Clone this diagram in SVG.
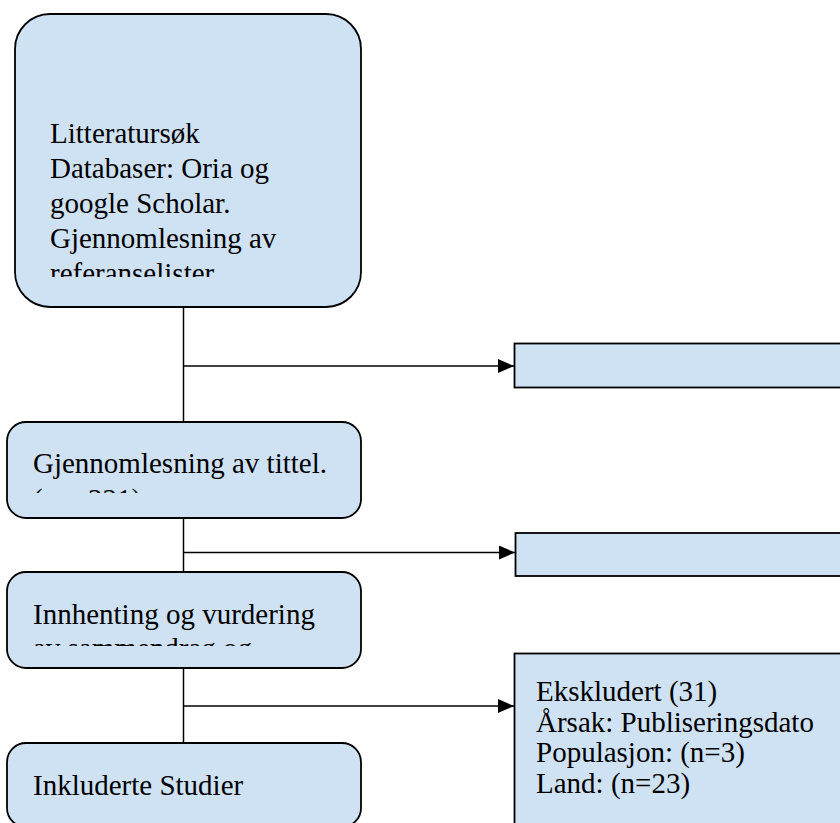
<svg xmlns="http://www.w3.org/2000/svg" width="840" height="823" viewBox="0 0 840 823">
<style>
.box{fill:#cfe2f3;stroke:#000;stroke-width:1.8}
.t{font-family:"Liberation Serif","Times New Roman",serif;font-size:29px;fill:#000}
.c{fill:none;stroke:#000;stroke-width:1.5}
</style>
<defs>
<marker id="ah" markerWidth="16" markerHeight="14" refX="16" refY="7" orient="auto" markerUnits="userSpaceOnUse">
<path d="M0,0 L16,7 L0,14 Z" fill="#000"/>
</marker>
<clipPath id="c1"><rect x="15" y="14" width="346" height="263"/></clipPath>
<clipPath id="c2"><rect x="7" y="422" width="354" height="71"/></clipPath>
<clipPath id="c3"><rect x="7" y="572" width="354" height="74"/></clipPath>
</defs>
<rect width="840" height="823" fill="#fff"/>
<g id="connectors">
<line class="c" x1="183.5" y1="307" x2="183.5" y2="422"/>
<line class="c" x1="183.5" y1="366" x2="514" y2="366" marker-end="url(#ah)"/>
<line class="c" x1="183.5" y1="518" x2="183.5" y2="572"/>
<line class="c" x1="183.5" y1="552.5" x2="515" y2="552.5" marker-end="url(#ah)"/>
<line class="c" x1="183.5" y1="668" x2="183.5" y2="743"/>
<line class="c" x1="183.5" y1="706" x2="514" y2="706" marker-end="url(#ah)"/>
</g>
<g id="litteratursok">
<rect class="box" x="15" y="14" width="346" height="293" rx="35" ry="35"/>
<text class="t" clip-path="url(#c1)"><tspan x="50" y="142.5">Litteratursøk</tspan><tspan x="50" y="177.7">Databaser: Oria og</tspan><tspan x="50" y="212.9">google Scholar.</tspan><tspan x="50" y="248.1">Gjennomlesning av</tspan><tspan x="50" y="283.3">referanselister</tspan></text>
</g>
<g id="tittel">
<rect class="box" x="7" y="422" width="354" height="96" rx="19" ry="19"/>
<text class="t" clip-path="url(#c2)"><tspan x="33" y="473">Gjennomlesning av tittel.</tspan><tspan x="33" y="508.5">(n = 221)</tspan></text>
</g>
<g id="innhenting">
<rect class="box" x="7" y="572" width="354" height="96" rx="19" ry="19"/>
<text class="t" clip-path="url(#c3)"><tspan x="33" y="624.3">Innhenting og vurdering</tspan><tspan x="33" y="658">av sammendrag og</tspan></text>
</g>
<g id="inkluderte">
<rect class="box" x="7" y="743" width="354" height="84" rx="19" ry="19"/>
<text class="t" x="33" y="795">Inkluderte Studier</text>
</g>
<g id="ekskludert1">
<rect class="box" x="514.5" y="343.5" width="340" height="44"/>
</g>
<g id="ekskludert2">
<rect class="box" x="515.5" y="533" width="340" height="43"/>
</g>
<g id="ekskludert3">
<rect class="box" x="514.5" y="653.5" width="340" height="180"/>
<text class="t"><tspan x="536" y="700.5">Ekskludert (31)</tspan><tspan x="536" y="731.5">Årsak: Publiseringsdato</tspan><tspan x="536" y="762">Populasjon: (n=3)</tspan><tspan x="536" y="792.5">Land: (n=23)</tspan></text>
</g>
</svg>
